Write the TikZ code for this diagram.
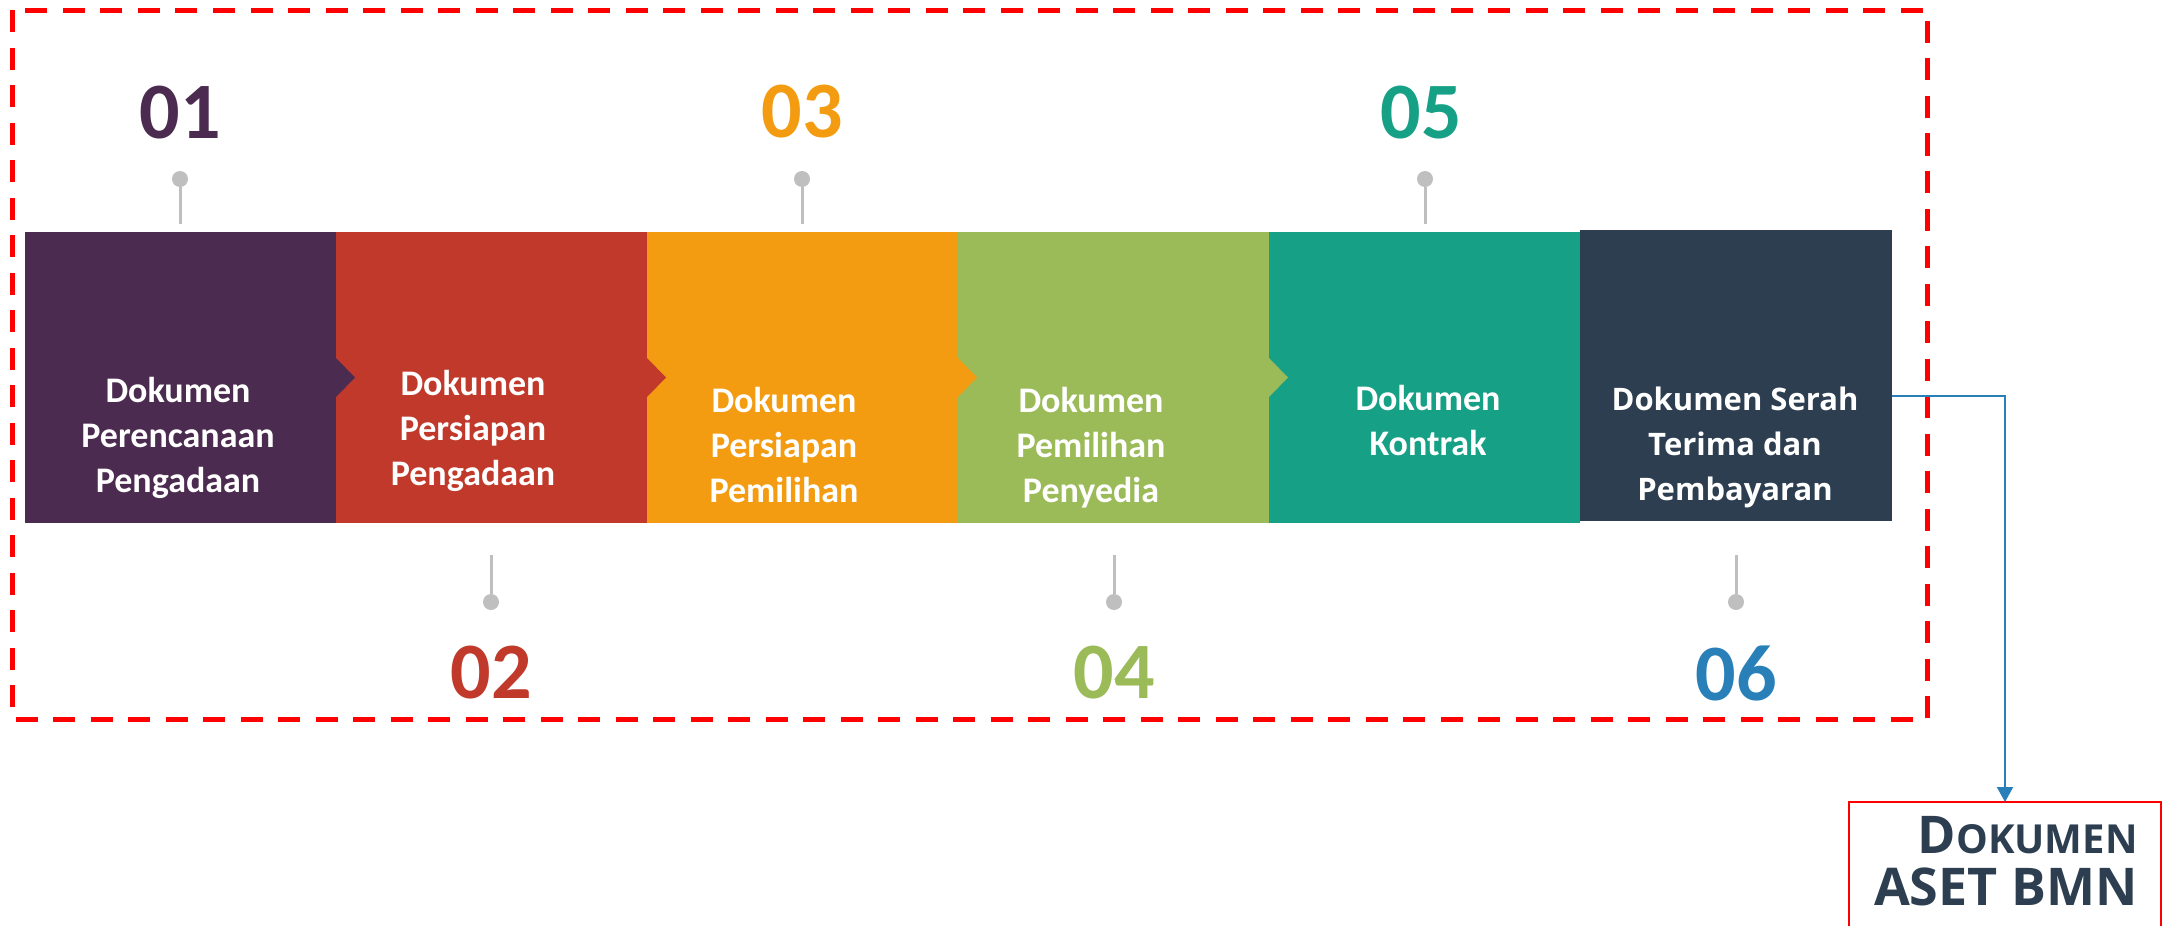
\documentclass[tikz,border=0pt]{standalone}
\usepackage{fontspec}
\newfontfamily\fcarl{Carlito}
\newfontfamily\fopen{Open Sans}
\usetikzlibrary{arrows.meta}
\definecolor{cA}{HTML}{4B2B4F}
\definecolor{cB}{HTML}{C0392B}
\definecolor{cC}{HTML}{F39C12}
\definecolor{cD}{HTML}{9BBB59}
\definecolor{cE}{HTML}{16A085}
\definecolor{cF}{HTML}{2C3E50}
\definecolor{cblue}{HTML}{2980B9}
\definecolor{pingray}{HTML}{BFBFBF}
\begin{document}
\begin{tikzpicture}[x=0.5pt,y=-0.5pt,
 stepbox/.style={rectangle, inner sep=0, outer sep=0, minimum width=155.5pt, minimum height=145.5pt, anchor=north west, draw=none},
 boxtext/.style={text=white, align=center, anchor=base, inner sep=0, font=\fcarl\bfseries\fontsize{18}{22.5}\selectfont},
 boxtextb/.style={text=white, align=center, anchor=base, inner sep=0, font=\fopen\bfseries\fontsize{15.5}{22.3}\selectfont},
 num/.style={inner sep=0, font=\fcarl\bfseries\fontsize{40}{40}\selectfont},
 pinhead/.style={circle, fill=pingray, minimum size=8pt, inner sep=0},
 pinline/.style={draw=pingray, line width=1.5pt},
 frame/.style={draw=red, line width=2.5pt, dash pattern=on 11pt off 7.75pt, line join=round},
 link/.style={draw=cblue, line width=1pt, -{Triangle[width=8pt,length=7.5pt]}},
]
\useasboundingbox (0,0) rectangle (2169,926);
\fill[white] (0,0) rectangle (2169,926);

% dashed frame
\draw[frame] (12,10) rectangle (1927,719);

% boxes
\node[stepbox, fill=cA] (b1) at (25,232) {};
\node[stepbox, fill=cB] (b2) at (336,232) {};
\node[stepbox, fill=cC] (b3) at (647,232) {};
\node[stepbox, fill=cD] (b4) at (958,232) {};
\node[stepbox, fill=cE] (b5) at (1269,232) {};
% notches
\fill[cA] ([yshift=9.75pt]b1.east) -- ([xshift=9.5pt]b1.east) -- ([yshift=-9.75pt]b1.east) -- cycle;
\fill[cB] ([yshift=9.75pt]b2.east) -- ([xshift=9.5pt]b2.east) -- ([yshift=-9.75pt]b2.east) -- cycle;
\fill[cC] ([yshift=9.75pt]b3.east) -- ([xshift=9.5pt]b3.east) -- ([yshift=-9.75pt]b3.east) -- cycle;
\fill[cD] ([yshift=9.75pt]b4.east) -- ([xshift=9.5pt]b4.east) -- ([yshift=-9.75pt]b4.east) -- cycle;
\node[stepbox, fill=cF, minimum width=156pt] (b6) at (1580,230) {};

% box texts (anchor = baseline of last line)
\node[boxtext] (t1) at (178,492) {Dokumen\\Perencanaan\\Pengadaan};
\node[boxtext] (t2) at (473,485) {Dokumen\\Persiapan\\Pengadaan};
\node[boxtext] (t3) at (784,502) {Dokumen\\Persiapan\\Pemilihan};
\node[boxtext] (t4) at (1091,502) {Dokumen\\Pemilihan\\Penyedia};
\node[boxtext] (t5) at (1428,455) {Dokumen\\Kontrak};
\node[boxtextb] (t6) at (1735,500) {Dokumen Serah\\Terima dan\\Pembayaran};

% pins (top)
\node[pinhead] (h1) at (180,179) {}; \coordinate (h1e) at (180,224); \draw[pinline] (h1) -- (h1e);
\node[pinhead] (h3) at (802,179) {}; \coordinate (h3e) at (802,224); \draw[pinline] (h3) -- (h3e);
\node[pinhead] (h5) at (1425,179) {}; \coordinate (h5e) at (1425,224); \draw[pinline] (h5) -- (h5e);
% pins (bottom)
\node[pinhead] (h2) at (491,602) {}; \coordinate (h2e) at (491,555); \draw[pinline] (h2) -- (h2e);
\node[pinhead] (h4) at (1114,602) {}; \coordinate (h4e) at (1114,555); \draw[pinline] (h4) -- (h4e);
\node[pinhead] (h6) at (1736,602) {}; \coordinate (h6e) at (1736,555); \draw[pinline] (h6) -- (h6e);

% numbers
\node[num, text=cA] (n1) at (180,113) {01};
\node[num, text=cC] (n3) at (802,112) {03};
\node[num, text=cE] (n5) at (1421,113) {05};
\node[num, text=cB] (n2) at (491,673) {02};
\node[num, text=cD] (n4) at (1114,673) {04};
\node[num, text=cblue] (n6) at (1736,673) {06};

% result box
\node[draw=red, line width=1pt, minimum width=156pt, minimum height=70pt, anchor=north west, inner sep=0, outer sep=0] (dk) at (1849,802) {};
\node[font=\fopen\bfseries\fontsize{26}{26}\selectfont, text=cF, align=right, anchor=base east, inner sep=0] (dkt) at (2138,905) {D{\fontsize{20}{20}\selectfont OKUMEN}\\ASET BMN};

\draw[link] ([yshift=-10.25pt]b6.east) -| (dk.north);
\end{tikzpicture}
\end{document}
